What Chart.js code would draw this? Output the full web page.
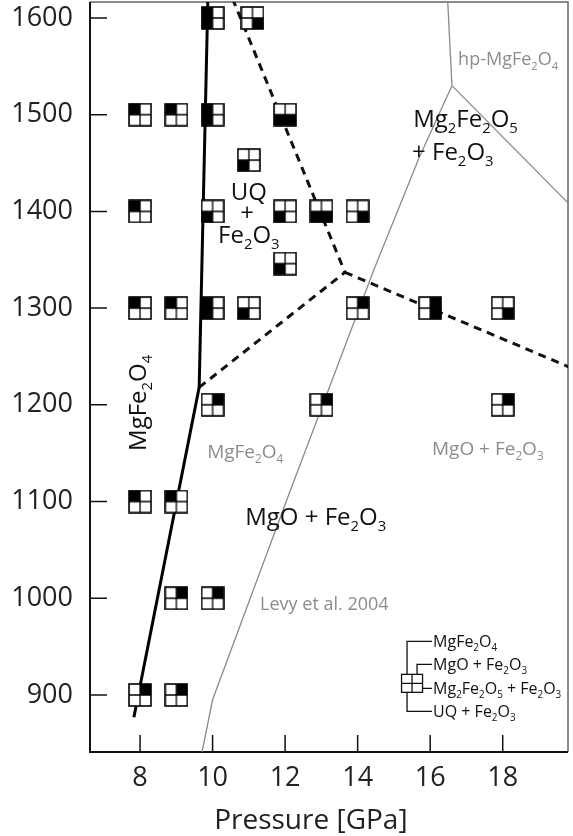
<!DOCTYPE html>
<html><head><meta charset="utf-8">
<script src="https://cdn.jsdelivr.net/npm/chart.js@4/dist/chart.umd.min.js"></script>
<style>html,body{margin:0;padding:0;background:#fff}#wrap{width:573px;height:836px}</style>
</head><body><div id="wrap"><canvas id="c" width="573" height="836"></canvas></div>
<script>
// ---------------- DATA ----------------
const xTicks = [8, 10, 12, 14, 16, 18];
const yTicks = [900, 1000, 1100, 1200, 1300, 1400, 1500, 1600];
const xTitle = 'Pressure [GPa]';

// Experiments: flags = [MgFe2O4, MgO+Fe2O3, Mg2Fe2O5+Fe2O3, UQ+Fe2O3]
const expPressure    = [10, 11.1, 8, 9, 10, 12, 11, 8, 10, 12, 13, 14, 12, 8, 9, 10, 11, 14, 16, 18, 10, 13, 18, 8, 9, 9, 10, 8, 9];
const expTemperature = [1600, 1600, 1500, 1500, 1500, 1500, 1453, 1400, 1400, 1400, 1400, 1400, 1346, 1300, 1300, 1300, 1300, 1300, 1300, 1300, 1200, 1200, 1200, 1100, 1100, 1000, 1000, 900, 900];
const expPhases      = ['1001','0010','1000','1000','1001','0011','0001','1000','0001','0001','0011','0010','0001','1000','1000','1001','0001','0100','0110','0010','0100','0100','0100','1000','1000','0100','0100','0100','0100'];

// This study: MgFe2O4 breakdown (solid) and phase boundaries (dashed)
const spinelP = [7.83, 9.63, 9.87];
const spinelT = [877, 1218, 1620];
const dashUpperP = [10.55, 13.65];
const dashUpperT = [1620, 1337];
const dashLowerP = [9.63, 13.65];
const dashLowerT = [1218, 1337];
const dashRightP = [13.65, 19.9];
const dashRightT = [1337, 1238];

// Levy et al. 2004 (grey)
const levyMainP = [9.71, 10.0, 12.05, 14.45, 15.7, 16.6];
const levyMainT = [841, 895, 1102, 1340, 1456, 1530];
const levyTopP = [16.6, 16.48];
const levyTopT = [1530, 1620];
const levyRightP = [16.6, 19.9];
const levyRightT = [1530, 1405];

const legendNames = ['MgFe_2O_4', 'MgO + Fe_2O_3', 'Mg_2Fe_2O_5 + Fe_2O_3', 'UQ + Fe_2O_3'];

// ---------------- HELPERS ----------------
const FONT = "'Open Sans', 'DejaVu Sans', sans-serif";
const pts = (xs, ys) => xs.map((x, i) => ({x: x, y: ys[i]}));

const markerCache = {};
function markerCanvas(flags) {
  if (markerCache[flags]) return markerCache[flags];
  const s = 24, c = document.createElement('canvas');
  c.width = s; c.height = s;
  const g = c.getContext('2d');
  const a = 1, b = s - 1, m = s / 2;
  g.fillStyle = '#fff'; g.fillRect(a, a, b - a, b - a);
  g.fillStyle = '#000';
  const q = [[a, a], [m, a], [m, m], [a, m]];
  flags.split('').forEach((f, i) => { if (f === '1') g.fillRect(q[i][0], q[i][1], m - a, m - a); });
  g.strokeStyle = '#000';
  g.lineWidth = 1.6; g.strokeRect(a, a, b - a, b - a);
  g.lineWidth = 1.3; g.beginPath();
  g.moveTo(m, a); g.lineTo(m, b); g.moveTo(a, m); g.lineTo(b, m); g.stroke();
  markerCache[flags] = c;
  return c;
}

// draw formula with "_d" subscripts
function parseFormula(str) {
  const parts = [];
  for (let i = 0; i < str.length; i++) {
    if (str[i] === '_' && i + 1 < str.length) { parts.push({t: str[i + 1], sub: true}); i++; }
    else parts.push({t: str[i], sub: false});
  }
  return parts;
}
function formulaWidth(ctx, parts, size) {
  let w = 0;
  parts.forEach(p => { ctx.font = (p.sub ? size * 0.62 : size) + 'px ' + FONT; w += ctx.measureText(p.t).width; });
  return w;
}
function drawFormula(ctx, str, x, y, size, color, align) {
  const parts = parseFormula(str);
  const w = formulaWidth(ctx, parts, size);
  let cx = align === 'center' ? x - w / 2 : (align === 'right' ? x - w : x);
  ctx.fillStyle = color;
  ctx.textBaseline = 'alphabetic';
  ctx.textAlign = 'left';
  parts.forEach(p => {
    const fs = p.sub ? size * 0.62 : size;
    ctx.font = fs + 'px ' + FONT;
    ctx.fillText(p.t, cx, p.sub ? y + size * 0.25 : y);
    cx += ctx.measureText(p.t).width;
  });
}

const decorPlugin = {
  id: 'decor',
  beforeDatasetsDraw(chart) {
    const {ctx, chartArea: ca, scales: {x, y}} = chart;
    ctx.save();
    // frame
    ctx.strokeStyle = '#666'; ctx.lineWidth = 1.5;
    ctx.beginPath(); ctx.moveTo(ca.left, ca.top); ctx.lineTo(ca.right, ca.top); ctx.lineTo(ca.right, ca.bottom); ctx.stroke();
    ctx.strokeStyle = '#111'; ctx.lineWidth = 2;
    ctx.beginPath(); ctx.moveTo(ca.left, ca.top); ctx.lineTo(ca.left, ca.bottom); ctx.lineTo(ca.right, ca.bottom); ctx.stroke();
    // inward ticks
    ctx.lineWidth = 1.5;
    ctx.beginPath();
    yTicks.forEach(v => { const py = y.getPixelForValue(v); ctx.moveTo(ca.left, py); ctx.lineTo(ca.left + 17, py); });
    xTicks.forEach(v => { const px = x.getPixelForValue(v); ctx.moveTo(px, ca.bottom); ctx.lineTo(px, ca.bottom - 17); });
    ctx.stroke();
    // axis title
    drawFormula(ctx, xTitle, x.getPixelForValue(12.71), ca.bottom + 77, 28, '#222', 'center');
    ctx.restore();
  },
  afterDatasetsDraw(chart) {
    const {ctx, scales: {x, y}} = chart;
    const X = v => x.getPixelForValue(v), Y = v => y.getPixelForValue(v);
    ctx.save();
    const grey = '#8c8c8c';
    // grey labels (Levy et al.)
    drawFormula(ctx, 'hp-MgFe_2O_4', X(16.77), Y(1551), 18, grey, 'left');
    drawFormula(ctx, 'MgFe_2O_4', X(9.85), Y(1145), 19, grey, 'left');
    drawFormula(ctx, 'MgO + Fe_2O_3', X(16.05), Y(1148), 19, grey, 'left');
    drawFormula(ctx, 'Levy et al. 2004', X(11.31), Y(988), 18, grey, 'left');
    // black field labels
    const blk = '#111';
    drawFormula(ctx, 'Mg_2Fe_2O_5', X(15.53), Y(1487), 24, blk, 'left');
    drawFormula(ctx, '+ Fe_2O_3', X(15.5), Y(1453), 24, blk, 'left');
    drawFormula(ctx, 'UQ', X(11.0), Y(1412), 24, blk, 'center');
    drawFormula(ctx, '+', X(10.95), Y(1390), 24, blk, 'center');
    drawFormula(ctx, 'Fe_2O_3', X(11.0), Y(1367), 24, blk, 'center');
    drawFormula(ctx, 'MgO + Fe_2O_3', X(10.9), Y(1076), 24, blk, 'left');
    ctx.save();
    ctx.translate(X(8.17), Y(1202));
    ctx.rotate(-Math.PI / 2);
    drawFormula(ctx, 'MgFe_2O_4', 0, 0, 24, blk, 'center');
    ctx.restore();
    // legend
    const cx = X(15.5), cy = Y(912);
    const bw = 21, bh = 18;
    const l = cx - bw / 2, t = cy - bh / 2, r = cx + bw / 2, b = cy + bh / 2;
    ctx.strokeStyle = '#111'; ctx.lineWidth = 1.3;
    ctx.strokeRect(l, t, bw, bh);
    ctx.beginPath();
    ctx.moveTo(cx, t); ctx.lineTo(cx, b); ctx.moveTo(l, cy); ctx.lineTo(r, cy);
    const lx = cx - 5, rx = cx + 5, tx = cx + 20;
    const rows = [cy - 42, cy - 19, cy + 5, cy + 28];
    ctx.moveTo(lx, t); ctx.lineTo(lx, rows[0]); ctx.lineTo(tx, rows[0]);
    ctx.moveTo(rx, t); ctx.lineTo(rx, rows[1]); ctx.lineTo(tx, rows[1]);
    ctx.moveTo(r, rows[2]); ctx.lineTo(tx, rows[2]);
    ctx.moveTo(lx, b); ctx.lineTo(lx, rows[3]); ctx.lineTo(tx, rows[3]);
    ctx.stroke();
    legendNames.forEach((n, i) => drawFormula(ctx, n, tx + 1, rows[i] + 6, 16, blk, 'left'));
    ctx.restore();
  }
};

const lineDs = (xs, ys, color, width, dash) => ({
  data: pts(xs, ys), showLine: true, pointRadius: 0, borderColor: color,
  borderWidth: width, borderDash: dash || [], fill: false, tension: 0
});

const zeroPad = s => { s.paddingTop = 0; s.paddingBottom = 0; s.paddingLeft = 0; s.paddingRight = 0; };

new Chart(document.getElementById('c'), {
  type: 'scatter',
  data: {
    datasets: [
      {
        data: pts(expPressure, expTemperature),
        pointStyle: ctx => markerCanvas(expPhases[ctx.dataIndex] || '0000'),
        pointRadius: 11, showLine: false
      },
      lineDs(spinelP, spinelT, '#000', 3),
      lineDs(dashUpperP, dashUpperT, '#111', 3, [8, 6]),
      lineDs(dashLowerP, dashLowerT, '#111', 3, [8, 6]),
      lineDs(dashRightP, dashRightT, '#111', 3, [8, 6]),
      lineDs(levyMainP, levyMainT, '#8a8a8a', 1.3),
      lineDs(levyTopP, levyTopT, '#8a8a8a', 1.3),
      lineDs(levyRightP, levyRightT, '#8a8a8a', 1.3)
    ]
  },
  options: {
    responsive: false, animation: false, devicePixelRatio: 1,
    layout: {autoPadding: false, padding: {top: 2, right: 5, left: 0, bottom: 0}},
    plugins: {legend: {display: false}, tooltip: {enabled: false}},
    scales: {
      x: {
        type: 'linear', min: 6.62, max: 19.8,
        afterBuildTicks: s => { s.ticks = xTicks.map(v => ({value: v})); },
        afterFit: s => { s.height = 84; zeroPad(s); },
        grid: {display: false, drawTicks: false}, border: {display: false},
        ticks: {font: {family: FONT, size: 27}, color: '#222', padding: 10, maxRotation: 0, callback: v => String(v)}
      },
      y: {
        type: 'linear', min: 841, max: 1616.5,
        afterBuildTicks: s => { s.ticks = yTicks.map(v => ({value: v})); },
        afterFit: s => { s.width = 90; zeroPad(s); },
        grid: {display: false, drawTicks: false}, border: {display: false},
        ticks: {font: {family: FONT, size: 27}, color: '#222', padding: 17, callback: v => String(v)}
      }
    }
  },
  plugins: [decorPlugin]
});
</script></body></html>
